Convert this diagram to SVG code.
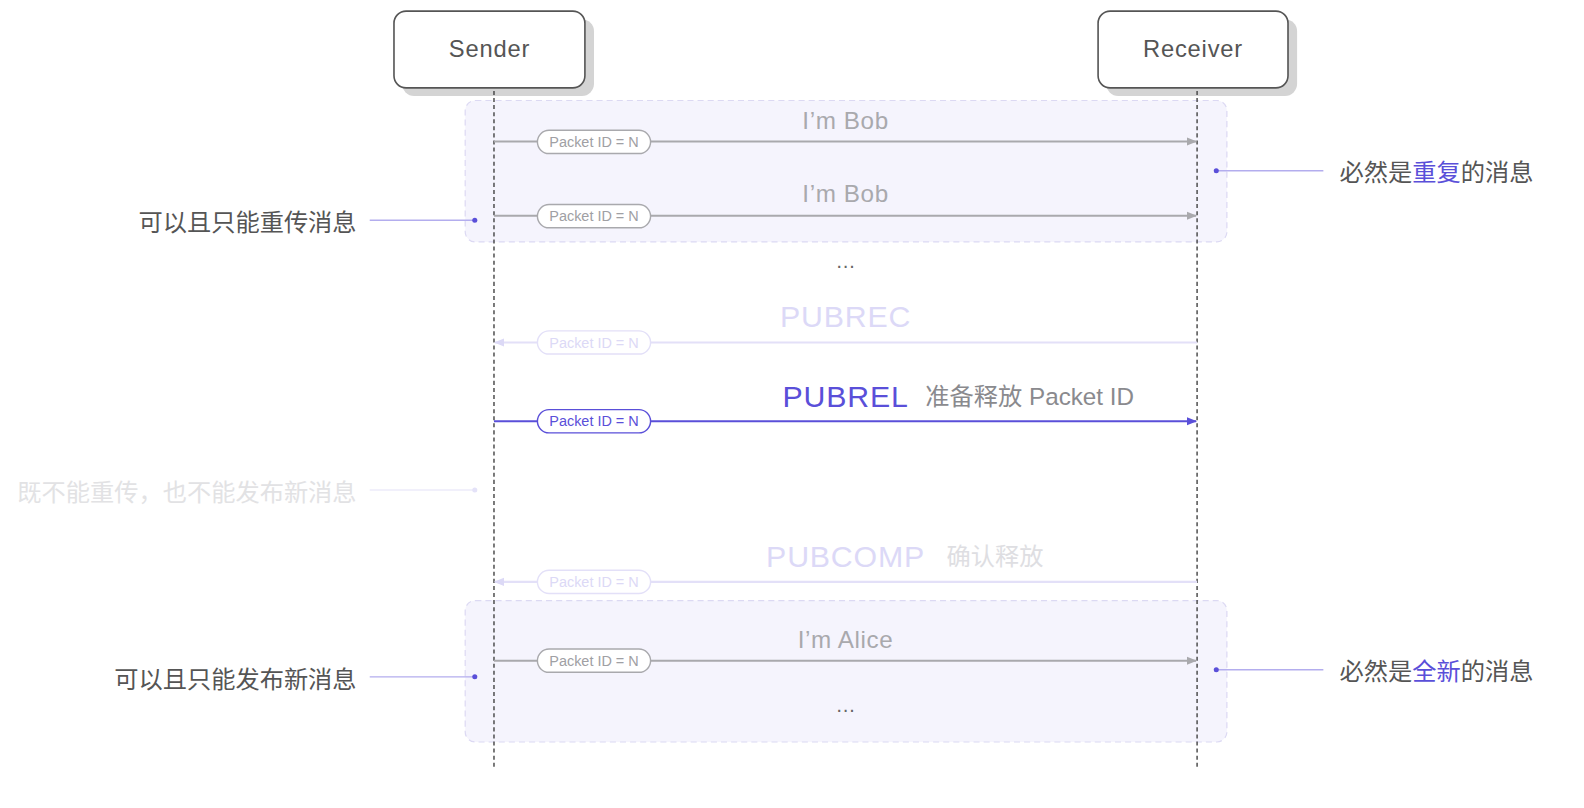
<svg xmlns="http://www.w3.org/2000/svg" width="1584" height="808" viewBox="0 0 1584 808">
<defs>
<marker id="ag" viewBox="0 0 10 10" refX="9" refY="5" markerWidth="10" markerHeight="10" markerUnits="userSpaceOnUse" orient="auto"><path d="M0,1 L10,5 L0,9 z" fill="#a9a9ad"/></marker>
<marker id="ap" viewBox="0 0 10 10" refX="9" refY="5" markerWidth="10" markerHeight="10" markerUnits="userSpaceOnUse" orient="auto"><path d="M0,1 L10,5 L0,9 z" fill="#5a4fd9"/></marker>
<marker id="af" viewBox="0 0 10 10" refX="9" refY="5" markerWidth="10" markerHeight="10" markerUnits="userSpaceOnUse" orient="auto"><path d="M0,1 L10,5 L0,9 z" fill="#dcd9f6"/></marker>
</defs>
<style>
text{font-family:"Liberation Sans","Noto Sans CJK SC",sans-serif}
.actor{fill:#fff;stroke:#555;stroke-width:1.6}
.shadow{fill:#d4d4d4}
.atext{font-size:23.5px;fill:#555;text-anchor:middle;letter-spacing:0.8px}
.life{stroke:#444;stroke-width:1.4;stroke-dasharray:4 3}
.region{fill:#f5f4fd;stroke:#dcd9f3;stroke-width:1.2;stroke-dasharray:6 4}
.mg{stroke:#a9a9ad;stroke-width:2;fill:none}
.mp{stroke:#5a4fd9;stroke-width:2;fill:none}
.mf{stroke:#e3e0f8;stroke-width:2;fill:none}
.pill{fill:#fff;stroke-width:1.4}
.pg{stroke:#a9a9ad}.pp{stroke:#5a4fd9}.pf{stroke:#e3e0f8}
.ptext{font-size:14.3px;text-anchor:middle}
.msg{font-size:24px;fill:#a9a9ad;text-anchor:middle;letter-spacing:0.6px}
.big{font-size:30px;text-anchor:middle;letter-spacing:0.8px}
.note{font-size:24px;fill:#555}
.sub{font-size:24px}
.ann{stroke:#b3adee;stroke-width:1.4}
.dot{fill:#5a4fd9}
.dots{font-size:20px;fill:#666;text-anchor:middle}
</style>
<g transform="scale(1.0102)">
<g id="region-top"><rect class="region" x="460.5" y="99.5" width="754" height="140" rx="10"/></g>
<g id="region-bottom"><rect class="region" x="460.5" y="594.5" width="754" height="140" rx="10"/></g>

<g id="sender">
<rect class="shadow" x="398" y="19" width="190" height="76" rx="12"/>
<rect class="actor" x="390" y="11" width="189" height="76" rx="12"/>
<text class="atext" x="484.5" y="56.5">Sender</text>
</g>
<g id="receiver">
<rect class="shadow" x="1095" y="19" width="189" height="76" rx="12"/>
<rect class="actor" x="1087" y="11" width="188" height="76" rx="12"/>
<text class="atext" x="1181" y="56.5">Receiver</text>
</g>

<g id="lifelines">
<line class="life" x1="489" y1="90" x2="489" y2="762"/>
<line class="life" x1="1185" y1="90" x2="1185" y2="762"/>
</g>

<g id="connectors">
<line class="mg" x1="489" y1="140" x2="1184" y2="140" marker-end="url(#ag)"/>
<line class="mg" x1="489" y1="213.5" x2="1184" y2="213.5" marker-end="url(#ag)"/>
<line class="mf" x1="1185" y1="339" x2="490" y2="339" marker-end="url(#af)"/>
<line class="mp" x1="489" y1="417" x2="1184" y2="417" marker-end="url(#ap)"/>
<line class="mf" x1="1185" y1="576" x2="490" y2="576" marker-end="url(#af)"/>
<line class="mg" x1="489" y1="654" x2="1184" y2="654" marker-end="url(#ag)"/>
<line class="ann" x1="366" y1="218" x2="470" y2="218"/>
<line class="ann" x1="366" y1="485" x2="470" y2="485" style="stroke:#ecebfa"/>
<line class="ann" x1="366" y1="670" x2="470" y2="670"/>
<line class="ann" x1="1204" y1="169" x2="1310" y2="169"/>
<line class="ann" x1="1204" y1="663" x2="1310" y2="663"/>
</g>

<g id="msg1">
<rect class="pill pg" x="532" y="129" width="112" height="23" rx="11.5"/>
<text class="ptext" x="588" y="145.5" fill="#a0a0a4">Packet ID = N</text>
<text class="msg" x="837" y="128">I’m Bob</text>
</g>
<g id="msg2">
<rect class="pill pg" x="532" y="202.5" width="112" height="23" rx="11.5"/>
<text class="ptext" x="588" y="219" fill="#a0a0a4">Packet ID = N</text>
<text class="msg" x="837" y="200">I’m Bob</text>
</g>
<g id="ellipsis1"><text class="dots" x="837" y="265">…</text></g>
<g id="pubrec">
<rect class="pill pf" x="532" y="327.5" width="112" height="23" rx="11.5"/>
<text class="ptext" x="588" y="344" fill="#dcd9f6">Packet ID = N</text>
<text class="big" x="837" y="324" fill="#dcd9f7">PUBREC</text>
</g>
<g id="pubrel">
<rect class="pill pp" x="532" y="405.5" width="112" height="23" rx="11.5"/>
<text class="ptext" x="588" y="422" fill="#5a4fd9">Packet ID = N</text>
<text class="big" x="837" y="403" fill="#5a4fd9">PUBREL</text>
<text class="sub" x="916" y="401" fill="#8a8a8e">准备释放 Packet ID</text>
</g>
<g id="pubcomp">
<rect class="pill pf" x="532" y="564.5" width="112" height="23" rx="11.5"/>
<text class="ptext" x="588" y="581" fill="#dcd9f6">Packet ID = N</text>
<text class="big" x="837" y="561" fill="#dcd9f7">PUBCOMP</text>
<text class="sub" x="937" y="559" fill="#dedee2">确认释放</text>
</g>
<g id="msg-alice">
<rect class="pill pg" x="532" y="642.5" width="112" height="23" rx="11.5"/>
<text class="ptext" x="588" y="659" fill="#a0a0a4">Packet ID = N</text>
<text class="msg" x="837" y="641">I’m Alice</text>
</g>
<g id="ellipsis2"><text class="dots" x="837" y="705">…</text></g>

<g id="note-retransmit">
<text class="note" x="353" y="229" text-anchor="end">可以且只能重传消息</text>
<circle class="dot" cx="470" cy="218" r="2.5"/>
</g>
<g id="note-neither">
<text class="note" x="353" y="496" text-anchor="end" style="fill:#e2e2e4">既不能重传，也不能发布新消息</text>
<circle cx="470" cy="485" r="2.5" fill="#e4e2f8"/>
</g>
<g id="note-new">
<text class="note" x="353" y="681" text-anchor="end">可以且只能发布新消息</text>
<circle class="dot" cx="470" cy="670" r="2.5"/>
</g>
<g id="note-dup">
<circle class="dot" cx="1204" cy="169" r="2.5"/>
<text class="note" x="1326" y="179">必然是<tspan fill="#5a4fd9">重复</tspan>的消息</text>
</g>
<g id="note-fresh">
<circle class="dot" cx="1204" cy="663" r="2.5"/>
<text class="note" x="1326" y="673">必然是<tspan fill="#5a4fd9">全新</tspan>的消息</text>
</g>
</g>
</svg>
